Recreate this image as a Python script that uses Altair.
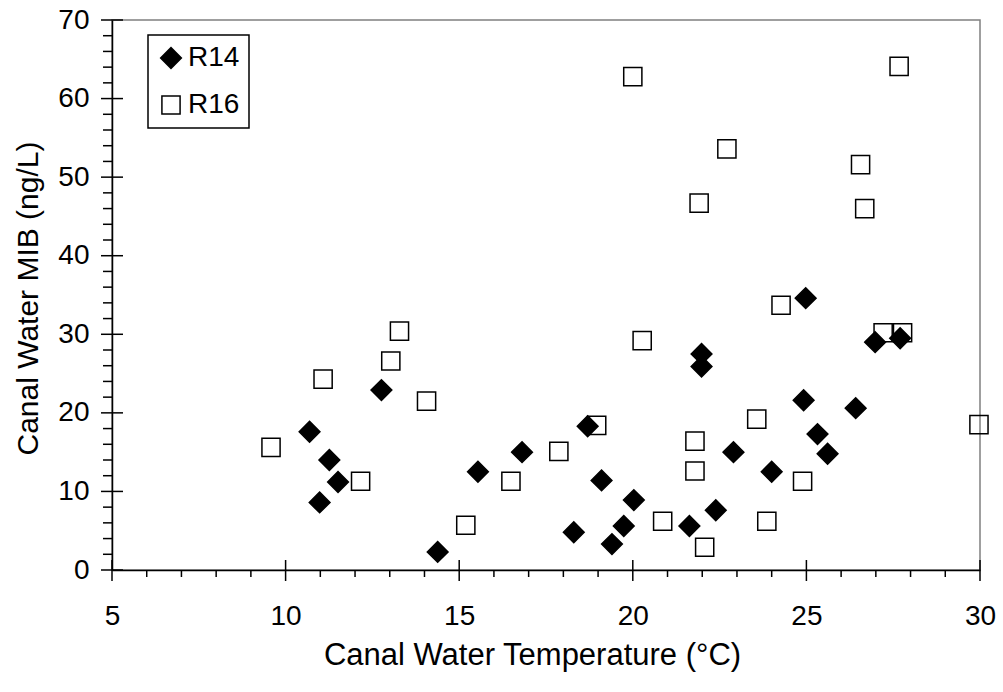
import altair as alt
import pandas as pd

# Site R14: canal water temperature (deg C) and MIB (ng/L)
r14_temp = [10.69, 10.98, 11.26, 11.51, 12.76, 14.38, 15.54, 16.81, 18.30, 18.70,
            19.10, 19.40, 19.74, 20.03, 21.63, 21.98, 21.98, 22.39, 22.90, 24.00,
            24.92, 24.98, 25.32, 25.61, 26.42, 26.98, 27.70]
r14_mib = [17.6, 8.6, 14.0, 11.2, 22.9, 2.3, 12.5, 15.0, 4.8, 18.3,
           11.4, 3.3, 5.6, 8.9, 5.6, 27.5, 25.9, 7.6, 15.0, 12.5,
           21.6, 34.6, 17.3, 14.8, 20.6, 29.0, 29.5]

# Site R16
r16_temp = [9.58, 11.08, 12.16, 13.03, 13.28, 14.06, 15.19, 16.49, 17.87, 18.96,
            20.00, 20.27, 20.86, 21.79, 21.79, 21.91, 22.07, 22.71, 23.57, 23.86,
            24.27, 24.89, 26.56, 26.68, 27.21, 27.67, 27.77, 29.97]
r16_mib = [15.6, 24.3, 11.3, 26.6, 30.4, 21.5, 5.7, 11.3, 15.1, 18.4,
           62.8, 29.2, 6.2, 16.4, 12.6, 46.7, 2.9, 53.6, 19.2, 6.2,
           33.7, 11.3, 51.6, 46.0, 30.2, 64.1, 30.2, 18.5]

series = ["R14", "R16"]
x_major = [5, 10, 15, 20, 25, 30]
x_minor = [v for v in range(5, 31) if v % 5]
y_major = [0, 10, 20, 30, 40, 50, 60, 70]
y_minor = [v for v in range(0, 71, 2) if v % 10]

# R16 first so the R14 diamonds sit on top where they overlap
points = pd.DataFrame(
    [{"series": "R16", "temp": t, "mib": m} for t, m in zip(r16_temp, r16_mib)]
    + [{"series": "R14", "temp": t, "mib": m} for t, m in zip(r14_temp, r14_mib)]
)

W, H = 868, 550
FONT = "Liberation Sans"

x_scale = alt.Scale(domain=[5, 30], nice=False, zero=False)
y_scale = alt.Scale(domain=[0, 70], nice=False, zero=True)

x_axis = alt.Axis(
    values=x_major, ticks=False, grid=False, domainColor="black", domainWidth=1.5,
    labelFont=FONT, labelFontSize=28, labelColor="black", labelPadding=32,
    labelBaseline="top", labelFlush=False, labelOverlap=False,
    title="Canal Water Temperature (°C)", titleFont=FONT, titleFontSize=31,
    titleFontWeight="normal", titleColor="black", titleX=420, titleY=94,
    titleBaseline="alphabetic", titleAlign="center",
)
y_axis = alt.Axis(
    values=y_major, ticks=False, grid=False, domainColor="black", domainWidth=1.5,
    labelFont=FONT, labelFontSize=28, labelColor="black", labelPadding=23,
    labelOverlap=False,
    title="Canal Water MIB (ng/L)", titleFont=FONT, titleFontSize=30,
    titleFontWeight="normal", titleColor="black", titleX=-75, titleY=278,
    titleBaseline="alphabetic", titleAlign="center",
)

legend = alt.Legend(title=None, orient="none", legendX=36, legendY=15)

pts = alt.Chart(points).mark_point(
    filled=True, strokeWidth=1.5, opacity=1
).encode(
    x=alt.X("temp:Q", scale=x_scale, axis=x_axis),
    y=alt.Y("mib:Q", scale=y_scale, axis=y_axis),
    shape=alt.Shape("series:N", scale=alt.Scale(domain=series, range=["diamond", "square"]), legend=legend),
    fill=alt.Fill("series:N", scale=alt.Scale(domain=series, range=["black", "transparent"]), legend=legend),
    stroke=alt.Stroke("series:N", scale=alt.Scale(domain=series, range=["black", "black"]), legend=legend),
    size=alt.Size("series:N", scale=alt.Scale(domain=series, range=[430, 330]), legend=legend),
)

# Tick marks: major ticks cross the axis line, minor ticks sit outside
tick_style = dict(color="black", strokeWidth=1.5)
x_major_ticks = alt.Chart(pd.DataFrame({"v": x_major})).mark_rule(**tick_style).encode(
    x=alt.X("v:Q", scale=x_scale, axis=x_axis), y=alt.value(H - 10), y2=alt.value(H + 11))
x_minor_ticks = alt.Chart(pd.DataFrame({"v": x_minor})).mark_rule(**tick_style).encode(
    x=alt.X("v:Q", scale=x_scale, axis=x_axis), y=alt.value(H), y2=alt.value(H + 7))
y_major_ticks = alt.Chart(pd.DataFrame({"v": y_major})).mark_rule(**tick_style).encode(
    y=alt.Y("v:Q", scale=y_scale, axis=y_axis), x=alt.value(-11), x2=alt.value(11))
y_minor_ticks = alt.Chart(pd.DataFrame({"v": y_minor})).mark_rule(**tick_style).encode(
    y=alt.Y("v:Q", scale=y_scale, axis=y_axis), x=alt.value(-9), x2=alt.value(0))

chart = alt.layer(
    pts, x_minor_ticks, y_minor_ticks, x_major_ticks, y_major_ticks
).properties(
    width=W, height=H,
    autosize=alt.AutoSizeParams(type="none"),
    padding={"left": 112, "top": 20, "right": 23, "bottom": 122},
    background="white",
).configure_view(
    stroke="#808080", strokeWidth=1.5,
).configure_legend(
    padding=9, rowPadding=19, strokeColor="black", strokeWidth=1.5,
    labelFont=FONT, labelFontSize=28, labelColor="black", labelOffset=3,
    symbolStrokeColor="black", symbolStrokeWidth=1.5, symbolOpacity=1,
)

chart.save("out.html", embed_options={"renderer": "svg", "actions": False})
